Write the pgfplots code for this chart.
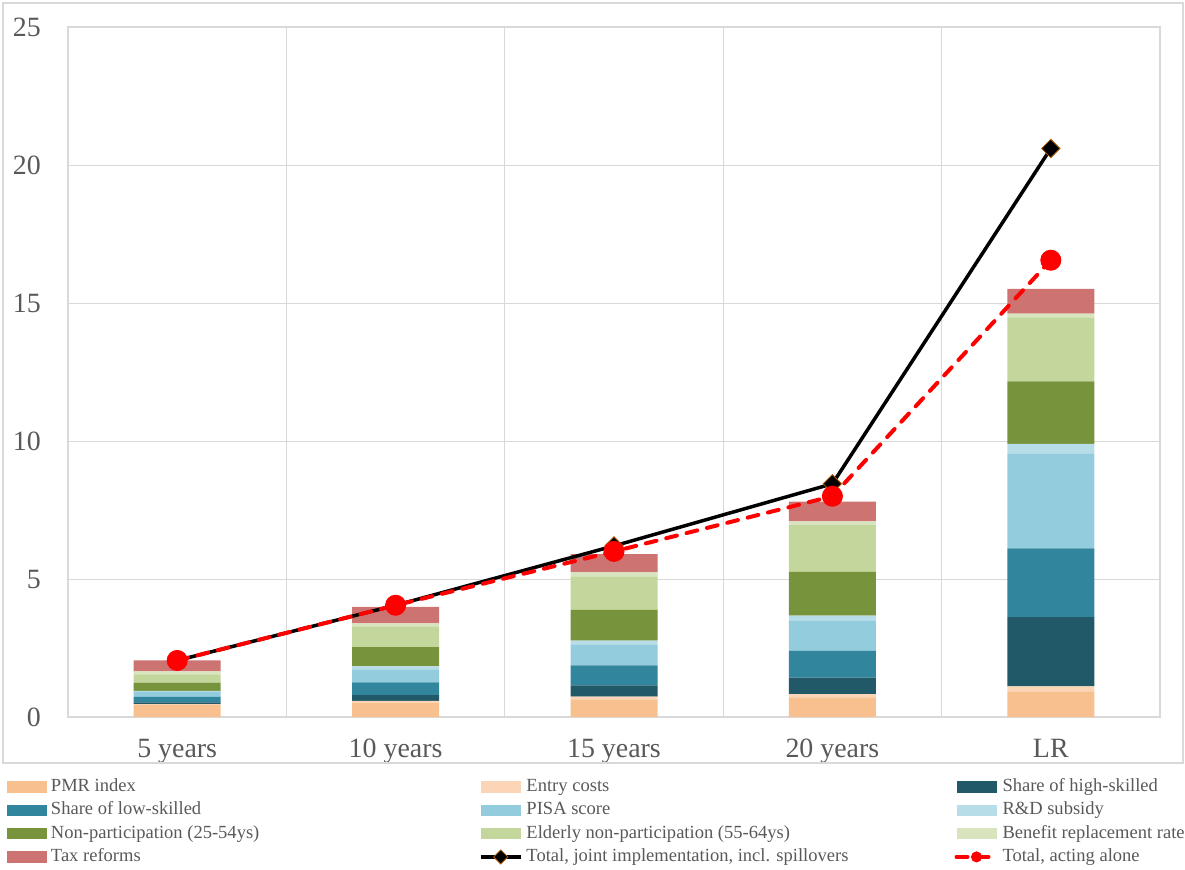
\documentclass[border=0pt]{standalone}
\usepackage{fontspec}
\setmainfont{Liberation Serif}
\usepackage{pgfplots}
\usepackage{pgfplotstable}
\pgfplotsset{compat=1.18}
\definecolor{cPMR}{HTML}{F9C08F}
\definecolor{cEntry}{HTML}{FBD5B5}
\definecolor{cHigh}{HTML}{215968}
\definecolor{cLow}{HTML}{31859C}
\definecolor{cPISA}{HTML}{93CDDD}
\definecolor{cRD}{HTML}{B7DEE8}
\definecolor{cNon}{HTML}{77933C}
\definecolor{cEld}{HTML}{C3D69B}
\definecolor{cBen}{HTML}{D7E4BD}
\definecolor{cTax}{HTML}{CD7371}
\definecolor{labgray}{HTML}{595959}
\definecolor{gridgray}{HTML}{D9D9D9}
\newcommand{\ca}[1]{\makebox[424bp][l]{#1}}
\pgfplotsset{
  mybar/.style={legend image code/.code={\fill[##1,draw=none] (0bp,-5.75bp) rectangle (40bp,5.75bp);}},
  myline/.style={legend image code/.code={\draw[##1,mark size=5bp,mark repeat=2,mark phase=2] plot coordinates {(0bp,0bp) (20bp,0bp) (40bp,0bp)};}},
}
\pgfplotstableread{
x pmr entry high low pisa rd non eld ben tax
0 0.45 0.02 0.06 0.20 0.20 0.02 0.30 0.30 0.10 0.40
1 0.52 0.07 0.20 0.47 0.47 0.11 0.69 0.74 0.12 0.60
2 0.64 0.10 0.41 0.72 0.76 0.14 1.11 1.20 0.16 0.66
3 0.71 0.12 0.60 0.98 1.07 0.19 1.59 1.71 0.12 0.71
4 0.93 0.18 2.51 2.49 3.42 0.37 2.26 2.32 0.14 0.89
}\bars
\begin{document}
\begin{tikzpicture}
\begin{axis}[name=ax, scale only axis, width=1092bp, height=690bp,
  xmin=-0.5, xmax=4.5, ymin=0, ymax=25,
  ybar stacked, bar width=87bp,
  xtick={0,1,2,3,4}, xticklabels={5 years,10 years,15 years,20 years,LR},
  ytick={0,5,10,15,20,25},
  minor xtick={0.5,1.5,2.5,3.5}, xminorgrids, ymajorgrids,
  grid style={draw=gridgray, line width=1bp},
  minor grid style={draw=gridgray, line width=1bp},
  axis line style={draw=gridgray, line width=1.2bp},
  major tick length=0pt, minor tick length=0pt,
  tick label style={font=\fontsize{28}{30}\selectfont, text=labgray},
  /pgf/number format/assume math mode=true,
  yticklabel style={anchor=east, inner sep=0pt, xshift=-27bp},
  xticklabel style={anchor=north, inner sep=0pt, yshift=-22bp},
]
\addplot[fill=cPMR, draw=none] table[x=x,y=pmr]{\bars};
\addplot[fill=cEntry, draw=none] table[x=x,y=entry]{\bars};
\addplot[fill=cHigh, draw=none] table[x=x,y=high]{\bars};
\addplot[fill=cLow, draw=none] table[x=x,y=low]{\bars};
\addplot[fill=cPISA, draw=none] table[x=x,y=pisa]{\bars};
\addplot[fill=cRD, draw=none] table[x=x,y=rd]{\bars};
\addplot[fill=cNon, draw=none] table[x=x,y=non]{\bars};
\addplot[fill=cEld, draw=none] table[x=x,y=eld]{\bars};
\addplot[fill=cBen, draw=none] table[x=x,y=ben]{\bars};
\addplot[fill=cTax, draw=none] table[x=x,y=tax]{\bars};
\end{axis}
\begin{axis}[scale only axis, width=1092bp, height=690bp,
  xmin=-0.5, xmax=4.5, ymin=0, ymax=25, hide axis,
  legend columns=3,
  legend cell align=left,
  legend style={at={(axis description cs:-0.0559,-0.0891)}, anchor=north west,
    draw=none, fill=none, inner sep=0pt, outer sep=0pt,
    column sep=4bp, row sep=6.3bp,
    font=\fontsize{18.6}{20}\selectfont, text=labgray,
    nodes={inner sep=0pt, text height=13bp, text depth=4bp, anchor=west},
  },
]
\addlegendimage{mybar, fill=cPMR}\addlegendentry{\ca{PMR index}}
\addlegendimage{mybar, fill=cEntry}\addlegendentry{\ca{Entry costs}}
\addlegendimage{mybar, fill=cHigh}\addlegendentry{Share of high-skilled}
\addlegendimage{mybar, fill=cLow}\addlegendentry{\ca{Share of low-skilled}}
\addlegendimage{mybar, fill=cPISA}\addlegendentry{\ca{PISA score}}
\addlegendimage{mybar, fill=cRD}\addlegendentry{R\&D subsidy}
\addlegendimage{mybar, fill=cNon}\addlegendentry{\ca{Non-participation (25-54ys)}}
\addlegendimage{mybar, fill=cEld}\addlegendentry{\ca{Elderly non-participation (55-64ys)}}
\addlegendimage{mybar, fill=cBen}\addlegendentry{Benefit replacement rate}
\addlegendimage{mybar, fill=cTax}\addlegendentry{\ca{Tax reforms}}
\addplot[myline, black, line width=3.5bp, mark=square*,
  mark options={rotate=45, fill=black, draw=orange!70!black, line width=0.8bp, solid},
  mark size=6.5bp] coordinates {(0,2.05) (1,4.05) (2,6.2) (3,8.45) (4,20.6)};
\addlegendentry{\ca{Total, joint implementation, incl. spillovers}}
\addplot[myline, red, line width=4bp, dash pattern=on 11bp off 10bp, line cap=round,
  mark=*, mark options={solid, fill=red, draw=red, line width=1bp},
  mark size=10bp] coordinates {(0,2.05) (1,4.05) (2,6.0) (3,8.0) (4,16.55)};
\addlegendentry{Total, acting alone}
\end{axis}
\draw[gridgray, line width=1.2bp] ([xshift=-65bp,yshift=-46bp]ax.south west) rectangle ([xshift=23bp,yshift=24bp]ax.north east);
\pgfresetboundingbox
\path ([xshift=-68bp,yshift=-152bp]ax.south west) rectangle ([xshift=25bp,yshift=27bp]ax.north east);
\end{tikzpicture}
\end{document}
